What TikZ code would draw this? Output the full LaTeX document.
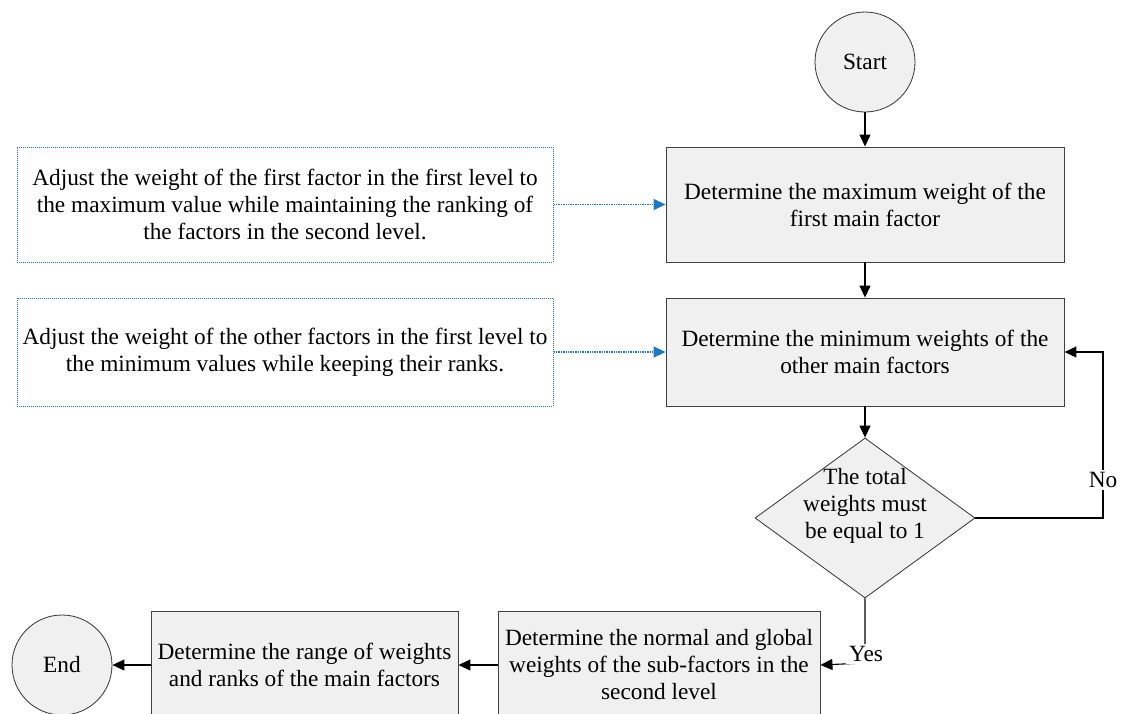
\documentclass[tikz,border=0pt]{standalone}
\usepackage{fontspec}
\setmainfont{Liberation Serif}
\usetikzlibrary{arrows.meta,shapes.geometric}
\definecolor{boxfill}{HTML}{F0F0F0}
\definecolor{dotblue}{HTML}{1F78C8}
\tikzset{
  procbox/.style={draw=black!75, line width=0.9pt, fill=boxfill, align=center, inner sep=0pt},
  notebox/.style={draw=dotblue, densely dotted, line width=1pt, fill=white, align=center, inner sep=0pt},
  termcircle/.style={draw=black!80, line width=0.8pt, fill=boxfill, circle, minimum size=100pt, inner sep=0pt},
  decision/.style={draw=black!80, line width=0.8pt, fill=boxfill, diamond, minimum width=220pt, minimum height=160pt, inner sep=0pt, aspect=1.375},
  flow/.style={line width=1.1pt, -{Triangle[length=12pt,width=11pt]}},
  noteflow/.style={draw=dotblue, densely dotted, line width=1.4pt, -{Triangle[length=12pt,width=11pt,fill=dotblue]}},
  lbl/.style={fill=white, inner sep=2pt}
}
\begin{document}
\begin{tikzpicture}[x=1pt,y=-1pt,font=\fontsize{23.3}{27}\selectfont]
\useasboundingbox (0,0) rectangle (1121,713);
\node[termcircle] (start) at (865,62) {Start};
\node[procbox, minimum width=398pt, minimum height=115pt] (b1) at (865,204.5) {Determine the maximum weight of the\\first main factor};
\node[procbox, minimum width=398pt, minimum height=108pt] (b2) at (865,352) {Determine the minimum weights of the\\other main factors};
\node[decision] (d) at (865,518) {};
\node[align=center, inner sep=0pt] (dtext) at (865,506) {The total\\weights must\\be equal to 1};
\node[procbox, minimum width=322pt, minimum height=108pt] (b3) at (659,665) {Determine the normal and global\\weights of the sub-factors in the\\second level};
\node[procbox, minimum width=307pt, minimum height=108pt] (b4) at (304.5,665) {Determine the range of weights\\and ranks of the main factors};
\node[termcircle] (end) at (62,665) {End};
\node[notebox, minimum width=536pt, minimum height=115pt] (n1) at (285,204.5) {Adjust the weight of the first factor in the first level to\\the maximum value while maintaining the ranking of\\the factors in the second level.};
\node[notebox, minimum width=536pt, minimum height=108pt] (n2) at (285,352) {Adjust the weight of the other factors in the first level to\\the minimum values while keeping their ranks.};
\coordinate (noc) at (1103,518);
\coordinate (yesc) at (865,663);
\draw[flow] (start) -- (b1);
\draw[flow] (b1) -- (b2);
\draw[flow] (b2) -- (d);
\draw[flow] (d.east) -- (noc) |- (b2.east);
\node[lbl] (nolbl) at (1103,480) {No};
\draw[flow] (d.south) -- (yesc) -- (b3.east);
\node[lbl, inner xsep=3pt] (yeslbl) at (866,654) {Yes};
\draw[flow] (b3) -- (b4);
\draw[flow] (b4) -- (end);
\draw[noteflow] (n1) -- (b1);
\draw[noteflow] (n2) -- (b2);
\end{tikzpicture}
\end{document}
